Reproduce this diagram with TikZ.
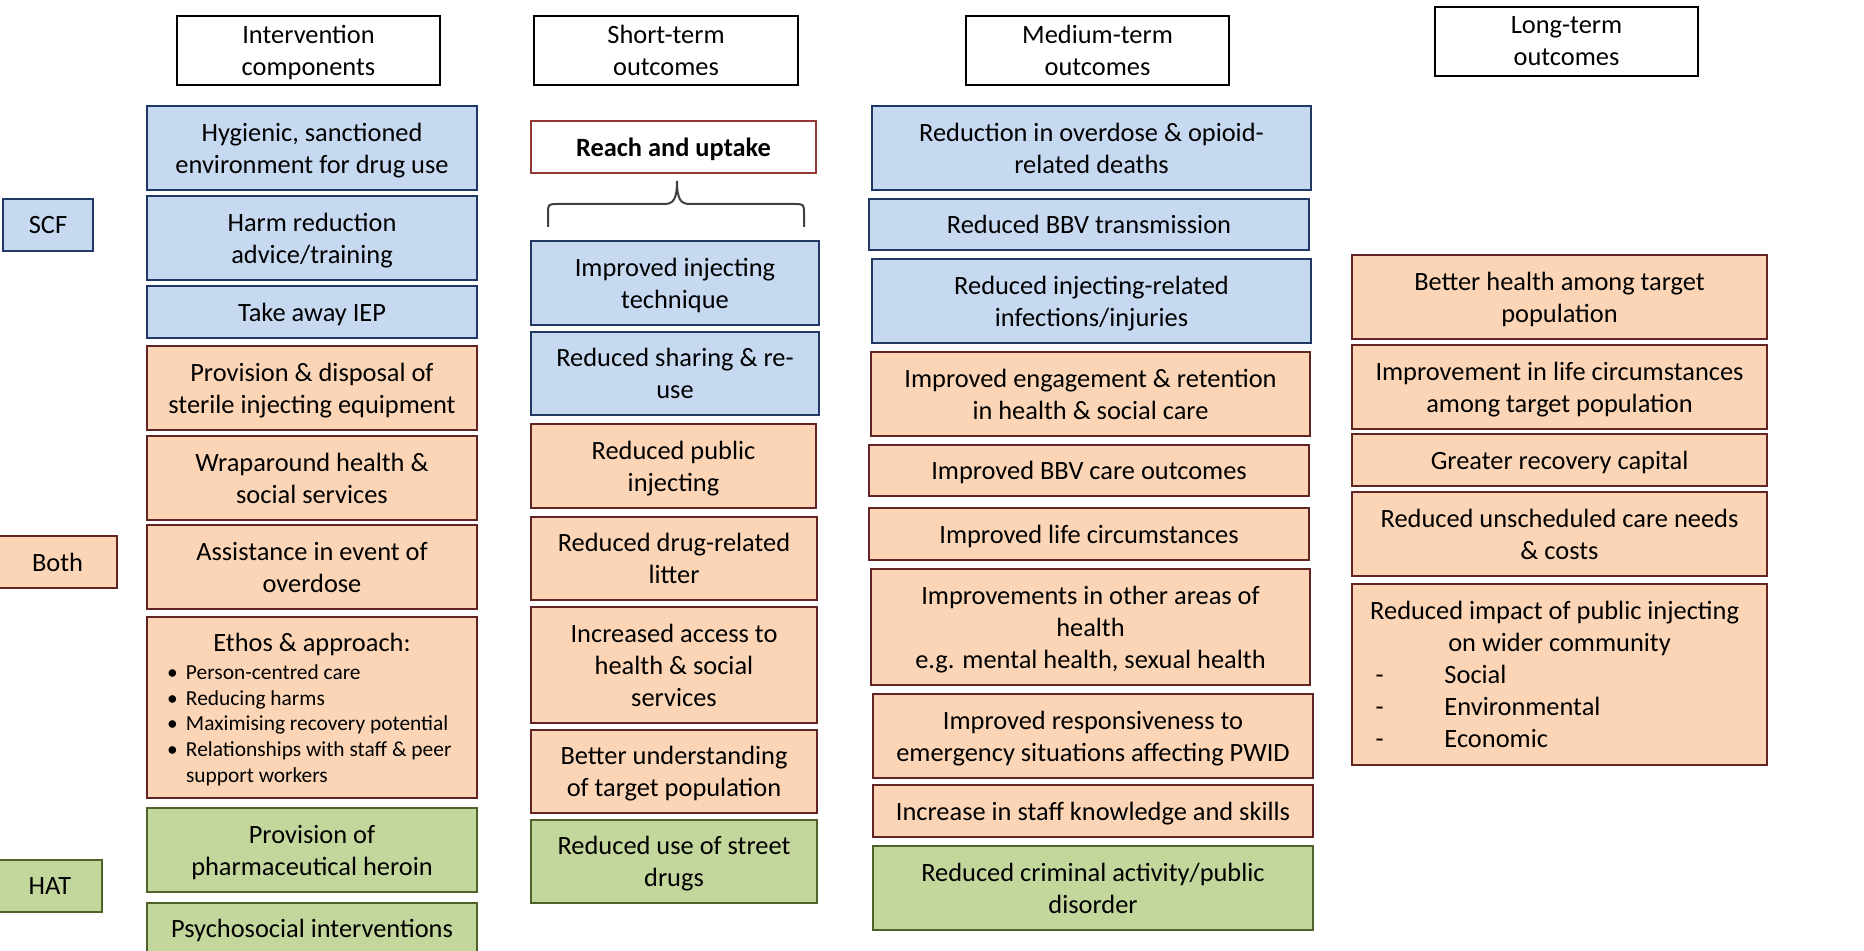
\documentclass[tikz,border=0pt]{standalone}
\usepackage{fontspec}
\setmainfont{Carlito}
\definecolor{bfill}{HTML}{C6D9F1}
\definecolor{bdraw}{HTML}{1F3864}
\definecolor{ofill}{HTML}{FBD5B5}
\definecolor{odraw}{HTML}{632523}
\definecolor{gfill}{HTML}{C3D69B}
\definecolor{gdraw}{HTML}{4F6228}
\definecolor{rdraw}{HTML}{953735}
\definecolor{brc}{HTML}{404040}
\tikzset{
 base/.style={draw, line width=1.1pt, inner sep=0pt, align=center, text depth=0pt, font=\fontsize{13.2}{16}\selectfont},
 hdr/.style={base, fill=white, draw=black, line width=0.9pt},
 bbox/.style={base, fill=bfill, draw=bdraw},
 obox/.style={base, fill=ofill, draw=odraw},
 gbox/.style={base, fill=gfill, draw=gdraw},
 rbox/.style={base, fill=white, draw=rdraw, line width=0.8pt, font=\fontsize{13.2}{16}\selectfont\bfseries},
}
\newcommand\bx[7]{\node[#2, minimum width={(#5-#3)*0.5pt}, minimum height={(#6-#4)*0.5pt}] (#1) at ({(#3+#5)/2},{(#4+#6)/2}) {#7};}
\newcommand\itm[1]{\par\hangindent=12pt\hangafter=1\noindent\hspace*{2.5pt}\makebox[9.5pt][l]{\textbullet}#1}
\newcommand\dsh[1]{\par\noindent\hspace*{7.5pt}\makebox[34.5pt][l]{-}#1}
\begin{document}
\begin{tikzpicture}[x=0.5pt,y=-0.5pt]
\useasboundingbox (0,0) rectangle (1864,951);
% headers
\bx{hIC}{hdr}{177}{16}{440}{85}{Intervention\\components}
\bx{hST}{hdr}{534}{16}{798}{85}{Short-term\\outcomes}
\bx{hMT}{hdr}{966}{16}{1229}{85}{Medium-term\\outcomes}
\bx{hLT}{hdr}{1435}{7}{1698}{76}{Long-term\\outcomes}
% left labels
\bx{scf}{bbox}{3}{199}{93}{251}{SCF}
\bx{both}{obox}{-2}{536}{117}{588}{Both}
\bx{hat}{gbox}{-2}{860}{102}{912}{HAT}
% column 1
\bx{c1a}{bbox}{147}{106}{477}{190}{Hygienic, sanctioned\\environment for drug use}
\bx{c1b}{bbox}{147}{196}{477}{280}{Harm reduction\\advice/training}
\bx{c1c}{bbox}{147}{286}{477}{338}{Take away IEP}
\bx{c1d}{obox}{147}{346}{477}{430}{Provision \& disposal of\\sterile injecting equipment}
\bx{c1e}{obox}{147}{436}{477}{520}{Wraparound health \&\\social services}
\bx{c1f}{obox}{147}{525}{477}{609}{Assistance in event of\\overdose}
\bx{c1g}{obox}{147}{617}{477}{798}{\begin{minipage}[b]{150pt}\centering Ethos \& approach:\par\vspace{1.2pt}\raggedright\fontsize{10.7}{12.85}\selectfont\itm{Person-centred care}\itm{Reducing harms}\itm{Maximising recovery potential}\itm{Relationships with staff \& peer\newline support workers}\end{minipage}}
\bx{c1h}{gbox}{147}{808}{477}{892}{Provision of\\pharmaceutical heroin}
\bx{c1i}{gbox}{147}{903}{477}{954}{Psychosocial interventions}
% short-term
\bx{reach}{rbox}{531}{121}{816}{173}{Reach and uptake}
\coordinate (bl) at (548,227);
\coordinate (br) at (804,227);
\coordinate (bt) at (677,181);
\draw[brc, line width=1pt] (bl) -- (548,214) .. controls (548,204) .. (558,204) -- (664,204) .. controls (673,204) and (677,200) .. (bt) .. controls (677,200) and (681,204) .. (690,204) -- (794,204) .. controls (804,204) .. (804,214) -- (br);
\bx{s1}{bbox}{531}{241}{819}{325}{Improved injecting\\technique}
\bx{s2}{bbox}{531}{332}{819}{415}{Reduced sharing \& re-\\use}
\bx{s3}{obox}{531}{424}{816}{508}{Reduced public\\injecting}
\bx{s4}{obox}{531}{517}{817}{600}{Reduced drug-related\\litter}
\bx{s5}{obox}{531}{607}{817}{723}{Increased access to\\health \& social\\services}
\bx{s6}{obox}{531}{730}{817}{813}{Better understanding\\of target population}
\bx{s7}{gbox}{531}{820}{817}{903}{Reduced use of street\\drugs}
% medium-term
\bx{m1}{bbox}{872}{106}{1311}{190}{Reduction in overdose \& opioid-\\related deaths}
\bx{m2}{bbox}{869}{199}{1309}{250}{Reduced BBV transmission}
\bx{m3}{bbox}{872}{259}{1311}{343}{Reduced injecting-related\\infections/injuries}
\bx{m4}{obox}{871}{352}{1310}{436}{Improved engagement \& retention\\in health \& social care}
\bx{m5}{obox}{869}{445}{1309}{496}{Improved BBV care outcomes}
\bx{m6}{obox}{869}{508}{1309}{560}{Improved life circumstances}
\bx{m7}{obox}{871}{569}{1310}{685}{Improvements in other areas of\\health\\e.g. mental health, sexual health}
\bx{m8}{obox}{873}{694}{1313}{778}{Improved responsiveness to\\emergency situations affecting PWID}
\bx{m9}{obox}{873}{785}{1313}{837}{Increase in staff knowledge and skills}
\bx{m10}{gbox}{873}{846}{1313}{930}{Reduced criminal activity/public\\disorder}
% long-term
\bx{l1}{obox}{1352}{255}{1767}{339}{Better health among target\\population}
\bx{l2}{obox}{1352}{345}{1767}{429}{Improvement in life circumstances\\among target population}
\bx{l3}{obox}{1352}{434}{1767}{486}{Greater recovery capital}
\bx{l4}{obox}{1352}{492}{1767}{576}{Reduced unscheduled care needs\\\& costs}
\bx{l5}{obox}{1352}{584}{1767}{765}{\begin{minipage}[b]{199pt}\centering Reduced impact of public injecting\newline on wider community\par\raggedright\dsh{Social}\dsh{Environmental}\dsh{Economic}\end{minipage}}
\end{tikzpicture}
\end{document}
